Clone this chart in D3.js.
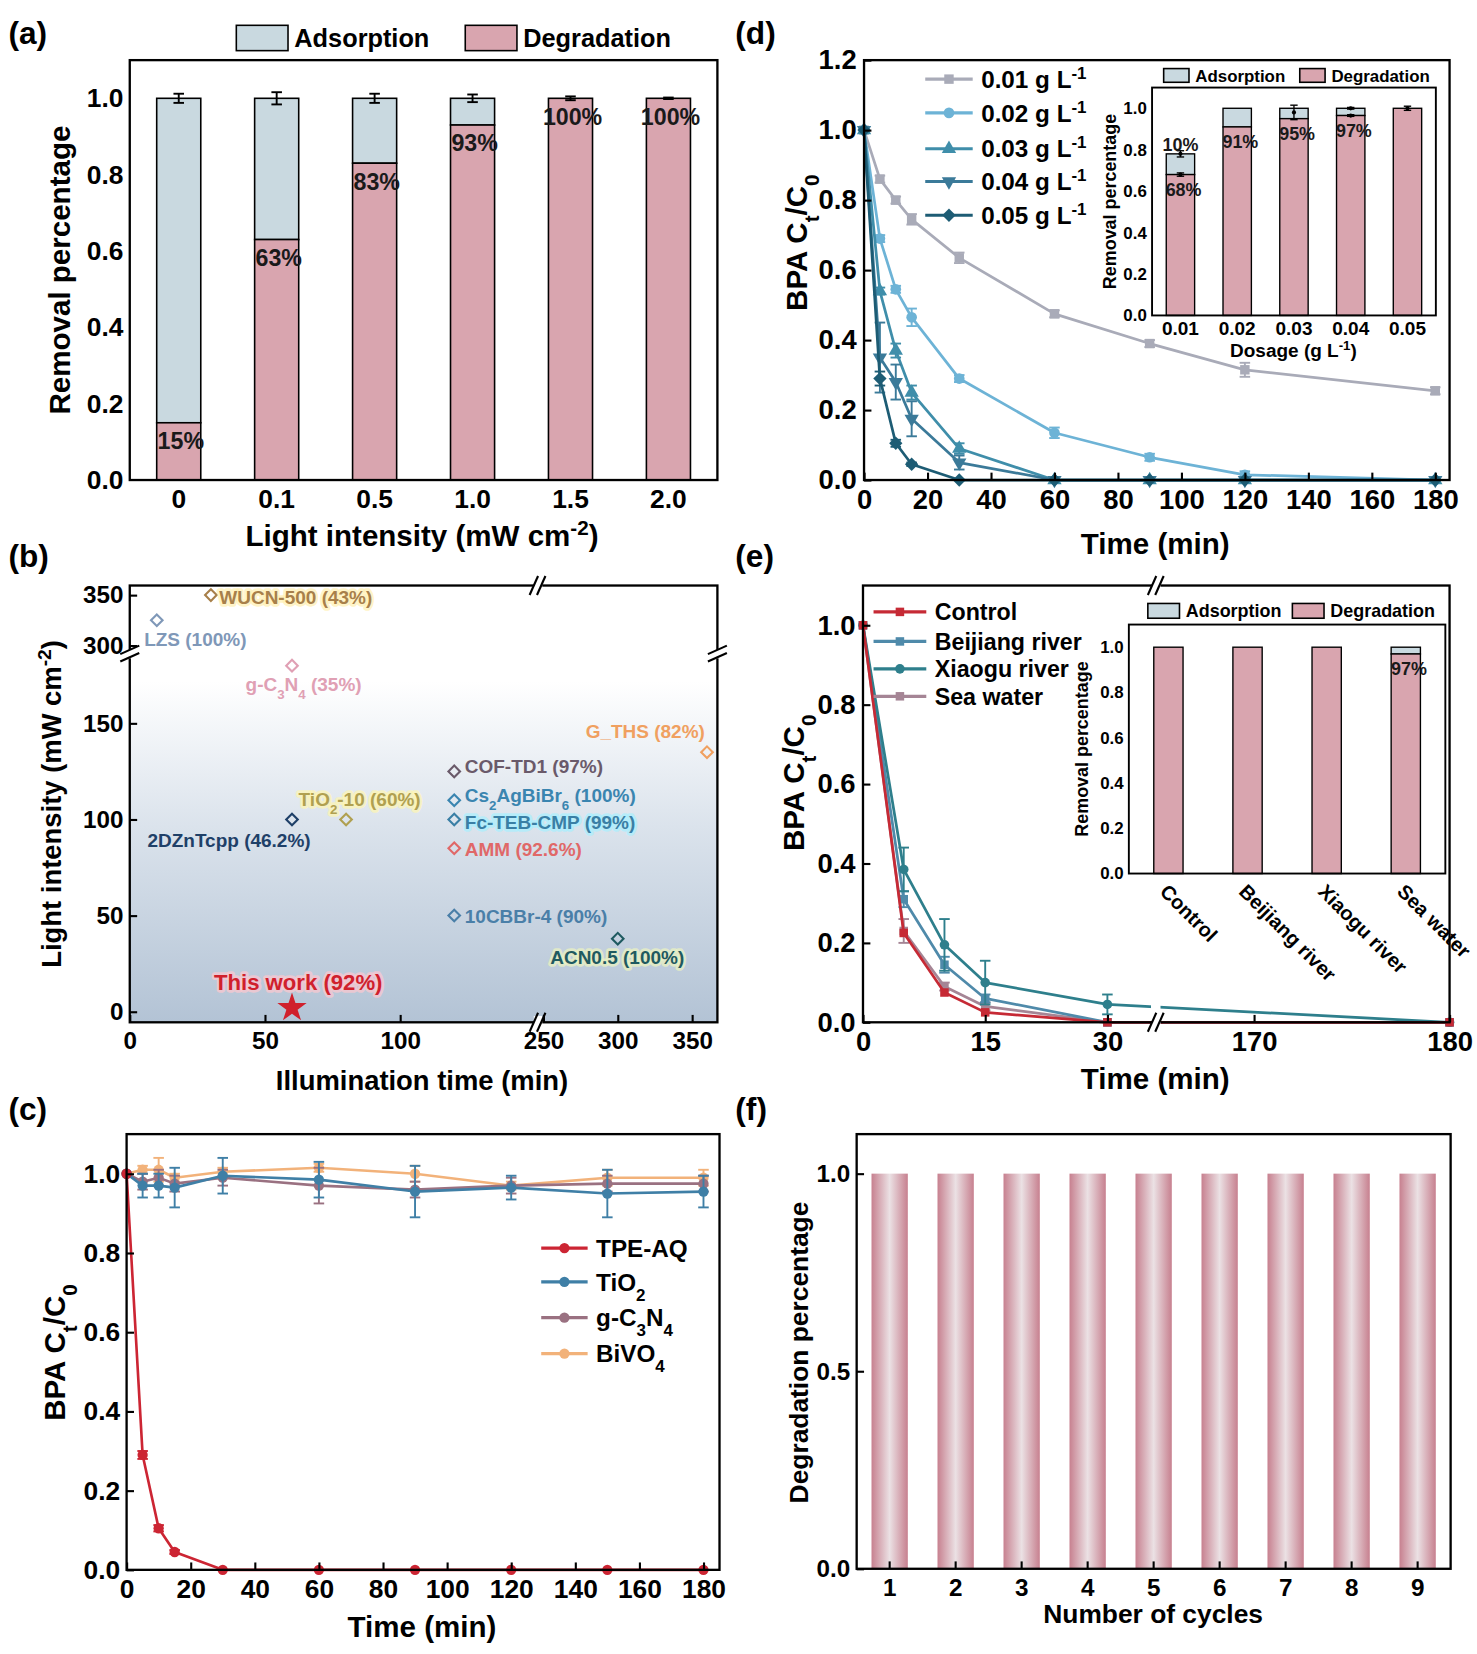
<!DOCTYPE html>
<html><head><meta charset="utf-8">
<script src="https://cdn.jsdelivr.net/npm/d3@7"></script>
<style>body{margin:0;background:#fff} svg{display:block}</style>
</head><body>
<script>
const FONT = "'Liberation Sans', Arial, Helvetica, sans-serif";

// ---- (a) light intensity
const a_cats = ["0", "0.1", "0.5", "1.0", "1.5", "2.0"];
const a_deg = [0.15, 0.63, 0.83, 0.93, 1.0, 1.0];
const a_total = [1.0, 1.0, 1.0, 1.0, 1.0, 1.0];
const a_err = [0.012, 0.016, 0.012, 0.01, 0.005, 0.002];
const a_text = ["15%", "63%", "83%", "93%", "100%", "100%"];

// ---- (b) literature comparison
const b_names = ["WUCN-500 (43%)", "LZS (100%)", "g-C_{3}N_{4} (35%)", "G_THS (82%)", "COF-TD1 (97%)",
  "Cs_{2}AgBiBr_{6} (100%)", "TiO_{2}-10 (60%)", "2DZnTcpp (46.2%)", "Fc-TEB-CMP (99%)", "AMM (92.6%)",
  "10CBBr-4 (90%)", "ACN0.5 (100%)", "This work (92%)"];
const b_time = [30, 10, 60, 360, 120, 120, 80, 60, 120, 120, 120, 300, 60];
const b_int = [350, 325, 180, 135, 125, 110, 100, 100, 100, 85, 50, 38, 2];

// ---- (c) catalysts
const c_time = [0, 5, 10, 15, 30, 60, 90, 120, 150, 180];
const c_names = ["TPE-AQ", "TiO_{2}", "g-C_{3}N_{4}", "BiVO_{4}"];
const c_tpe = [1, 0.29, 0.105, 0.045, 0, 0, 0, 0, 0, 0];
const c_tio2 = [1, 0.97, 0.97, 0.965, 0.995, 0.985, 0.955, 0.965, 0.95, 0.955];
const c_gcn = [1, 0.98, 0.99, 0.975, 0.99, 0.97, 0.96, 0.97, 0.975, 0.975];
const c_bivo = [1, 1.01, 1.01, 0.99, 1.005, 1.015, 1.0, 0.97, 0.99, 0.99];
const c_tpe_err = [0, 0.01, 0.008, 0.005, 0, 0, 0, 0, 0, 0];
const c_tio2_err = [0, 0.03, 0.03, 0.05, 0.045, 0.045, 0.065, 0.03, 0.06, 0.04];
const c_gcn_err = [0, 0.02, 0.02, 0.02, 0.02, 0.045, 0.02, 0.02, 0.02, 0.02];
const c_bivo_err = [0, 0.01, 0.03, 0.01, 0.01, 0.01, 0.02, 0.01, 0.02, 0.02];

// ---- (d) dosage
const d_time = [0, 5, 10, 15, 30, 60, 90, 120, 180];
const d_names = ["0.01 g L^{-1}", "0.02 g L^{-1}", "0.03 g L^{-1}", "0.04 g L^{-1}", "0.05 g L^{-1}"];
const d_001 = [1, 0.86, 0.80, 0.745, 0.635, 0.475, 0.39, 0.315, 0.255];
const d_002 = [1, 0.69, 0.545, 0.465, 0.29, 0.135, 0.065, 0.015, 0];
const d_003 = [1, 0.54, 0.37, 0.25, 0.09, 0, 0, 0, 0];
const d_004 = [1, 0.35, 0.28, 0.175, 0.05, 0, 0, 0, 0];
const d_005 = [1, 0.29, 0.105, 0.045, 0, 0, 0, 0, 0];
const d_001_err = [0, 0.01, 0.01, 0.015, 0.015, 0.01, 0.01, 0.02, 0.01];
const d_002_err = [0, 0.01, 0.01, 0.025, 0.01, 0.015, 0.01, 0.01, 0];
const d_003_err = [0, 0.01, 0.02, 0.02, 0.015, 0, 0, 0, 0];
const d_004_err = [0, 0.1, 0.05, 0.05, 0.02, 0, 0, 0, 0];
const d_005_err = [0, 0.02, 0.01, 0.005, 0, 0, 0, 0, 0];
// inset
const di_cats = ["0.01", "0.02", "0.03", "0.04", "0.05"];
const di_deg = [0.68, 0.91, 0.95, 0.965, 1.0];
const di_total = [0.78, 1.0, 1.0, 1.0, 1.0];
const di_text = ["68%", "91%", "95%", "97%", ""];

// ---- (e) water matrix
const e_time = [0, 5, 10, 15, 30, 180];
const e_names = ["Control", "Beijiang river", "Xiaogu river", "Sea water"];
const e_control = [1, 0.225, 0.075, 0.025, 0, 0];
const e_beijiang = [1, 0.31, 0.145, 0.06, 0, 0];
const e_xiaogu = [1, 0.385, 0.195, 0.1, 0.045, 0];
const e_sea = [1, 0.23, 0.09, 0.04, 0, 0];
const e_xiaogu_err = [0, 0.055, 0.065, 0.055, 0.025, 0];
const e_beijiang_err = [0, 0.02, 0.02, 0.01, 0, 0];
const e_sea_err = [0, 0.03, 0.01, 0.01, 0, 0];
const ei_deg = [1.0, 1.0, 1.0, 0.97];
const ei_total = [1.0, 1.0, 1.0, 1.0];

// ---- (f) cycles
const f_cats = ["1", "2", "3", "4", "5", "6", "7", "8", "9"];
const f_vals = [1, 1, 1, 1, 1, 1, 1, 1, 1];

const ADS = "#c9d9e0", DEG = "#d9a5af";

const svg = d3.select("body").append("svg").attr("width", 1477).attr("height", 1654)
  .attr("font-family", FONT).attr("font-weight", "bold");
const root = svg.append("g").attr("transform", `scale(${1477 / 1400})`);
const defs = svg.append("defs");

function rich(t, str) {
  str.split(/(_\{[^}]*\}|\^\{[^}]*\})/).forEach(p => {
    if (!p) return;
    if (p[0] == "_") t.append("tspan").attr("baseline-shift", "sub").attr("font-size", "70%").text(p.slice(2, -1));
    else if (p[0] == "^") t.append("tspan").attr("baseline-shift", "super").attr("font-size", "70%").text(p.slice(2, -1));
    else t.append("tspan").text(p);
  });
  return t;
}
function label(g, x, y, str, size, anchor = "start", rot = 0) {
  const t = g.append("text").attr("font-size", size).attr("text-anchor", anchor)
    .attr("transform", `translate(${x},${y}) rotate(${rot})`);
  return rich(t, str);
}
function frame(g, x0, y0, x1, y1, w = 2.2) {
  g.append("rect").attr("x", x0).attr("y", y0).attr("width", x1 - x0).attr("height", y1 - y0)
    .attr("fill", "none").attr("stroke", "#000").attr("stroke-width", w);
}
function styleAxis(a, size) {
  a.select(".domain").remove();
  a.selectAll("line").attr("stroke", "#000").attr("stroke-width", 2);
  a.selectAll("text").attr("font-size", size).attr("font-family", FONT).attr("font-weight", "bold").attr("fill", "#000");
  return a;
}
function yAxis(g, scale, x, ticks, fmt, size, inner = 7, pad = 7) {
  return styleAxis(g.append("g").attr("transform", `translate(${x},0)`)
    .call(d3.axisLeft(scale).tickValues(ticks).tickFormat(fmt).tickSizeInner(-inner).tickSizeOuter(0).tickPadding(pad)), size);
}
function xAxis(g, scale, y, ticks, fmt, size, inner = 7, pad = 9) {
  const ax = d3.axisBottom(scale).tickSizeInner(-inner).tickSizeOuter(0).tickPadding(pad);
  if (ticks) ax.tickValues(ticks);
  if (fmt) ax.tickFormat(fmt);
  return styleAxis(g.append("g").attr("transform", `translate(0,${y})`).call(ax), size);
}
function errBar(g, x, y0, y1, cap, color, w = 1.6) {
  g.append("line").attr("x1", x).attr("x2", x).attr("y1", y0).attr("y2", y1).attr("stroke", color).attr("stroke-width", w);
  [y0, y1].forEach(yy => g.append("line").attr("x1", x - cap).attr("x2", x + cap).attr("y1", yy).attr("y2", yy)
    .attr("stroke", color).attr("stroke-width", w));
}
function breakMark(g, x, y, horiz = true) {
  // white gap and two slanted strokes
  if (horiz) {
    g.append("rect").attr("x", x - 4).attr("y", y - 6).attr("width", 8).attr("height", 12).attr("fill", "#fff");
    [-4, 3].forEach(o => g.append("line").attr("x1", x + o - 4).attr("y1", y + 9).attr("x2", x + o + 4).attr("y2", y - 9)
      .attr("stroke", "#000").attr("stroke-width", 2));
  } else {
    g.append("rect").attr("x", x - 6).attr("y", y - 4).attr("width", 12).attr("height", 8).attr("fill", "#fff");
    [-4, 3].forEach(o => g.append("line").attr("x1", x - 9).attr("y1", y + o + 4).attr("x2", x + 9).attr("y2", y + o - 4)
      .attr("stroke", "#000").attr("stroke-width", 2));
  }
}
function stackBars(g, xs, ys, cats, deg, total, stroke = 1.5) {
  g.selectAll(null).data(cats).join("rect").attr("x", d => xs(d)).attr("width", xs.bandwidth())
    .attr("y", (d, i) => ys(total[i])).attr("height", (d, i) => ys(deg[i]) - ys(total[i]))
    .attr("fill", ADS).attr("stroke", "#000").attr("stroke-width", stroke);
  g.selectAll(null).data(cats).join("rect").attr("x", d => xs(d)).attr("width", xs.bandwidth())
    .attr("y", (d, i) => ys(deg[i])).attr("height", (d, i) => ys(0) - ys(deg[i]))
    .attr("fill", DEG).attr("stroke", "#000").attr("stroke-width", stroke);
}
function legendBox(g, x, y, w, h, fill, text, size) {
  g.append("rect").attr("x", x).attr("y", y).attr("width", w).attr("height", h).attr("fill", fill)
    .attr("stroke", "#000").attr("stroke-width", 1.5);
  g.append("text").attr("x", x + w + 6).attr("y", y + h / 2 + size * 0.36).attr("font-size", size).text(text);
}
function series(g, xf, ys, xs, vals, errs, color, sym, symSize, lw = 2.5) {
  const line = d3.line().x((d, i) => xf(xs[i])).y(d => ys(d));
  g.append("path").attr("d", line(vals)).attr("fill", "none").attr("stroke", color).attr("stroke-width", lw)
    .attr("stroke-linejoin", "round");
  if (errs) vals.forEach((v, i) => { if (errs[i] > 0) errBar(g, xf(xs[i]), ys(v - errs[i]), ys(v + errs[i]), 5, color, 1.8); });
  g.selectAll(null).data(vals).join("path").attr("d", d3.symbol(sym.type, symSize))
    .attr("transform", (d, i) => `translate(${xf(xs[i])},${ys(d)}) rotate(${sym.rot || 0})`)
    .attr("fill", color);
}
function legendLine(g, x, y, color, sym, symSize, text, size, len = 44) {
  g.append("line").attr("x1", x).attr("x2", x + len).attr("y1", y).attr("y2", y).attr("stroke", color).attr("stroke-width", 3);
  g.append("path").attr("d", d3.symbol(sym.type, symSize)).attr("transform", `translate(${x + len / 2},${y}) rotate(${sym.rot || 0})`).attr("fill", color);
  label(g, x + len + 8, y + size * 0.36, text, size);
}
const SQ = { type: d3.symbolSquare }, CI = { type: d3.symbolCircle }, TU = { type: d3.symbolTriangle },
  TD = { type: d3.symbolTriangle, rot: 180 }, DI = { type: d3.symbolSquare, rot: 45 };

// panel letters
[["(a)", 8, 42], ["(b)", 8, 537], ["(c)", 8, 1062], ["(d)", 697, 42], ["(e)", 697, 537], ["(f)", 697, 1062]]
  .forEach(([t, x, y]) => root.append("text").attr("x", x).attr("y", y).attr("font-size", 30).text(t));

// ================= (a)
{
  const g = root.append("g");
  const x = d3.scaleBand().domain(a_cats).range([123, 680]).paddingInner(0.55).paddingOuter(0.275);
  const y = d3.scaleLinear().domain([0, 1.1]).range([455, 57]);
  stackBars(g, x, y, a_cats, a_deg, a_total);
  a_cats.forEach((c, i) => {
    const cx = x(c) + x.bandwidth() / 2;
    errBar(g, cx, y(a_total[i] - a_err[i]), y(a_total[i] + a_err[i]), 5, "#000", 1.8);
    g.append("text").attr("x", cx + 2).attr("y", y(a_deg[i]) + 25).attr("text-anchor", "middle")
      .attr("font-size", 22).attr("fill", "#1a1a1a").text(a_text[i]);
  });
  frame(g, 123, 57, 680, 455);
  yAxis(g, y, 123, [0, 0.2, 0.4, 0.6, 0.8, 1.0], d3.format(".1f"), 25, 0, 6);
  xAxis(g, x, 455, null, null, 25, 0, 9);
  legendBox(g, 224, 24, 49, 24, ADS, "Adsorption", 24);
  legendBox(g, 441, 24, 49, 24, DEG, "Degradation", 24);
  label(g, 400, 518, "Light intensity (mW cm^{-2})", 28, "middle");
  label(g, 66, 256, "Removal percentage", 28, "middle", -90);
}

// ================= (b)
{
  const g = root.append("g");
  const X0 = 123, X1 = 680, Y0 = 555, Y1 = 969, XB = 510, YB = 620;
  const xL = d3.scaleLinear().domain([0, 151]).range([X0, XB]);
  const xH = d3.scaleLinear().domain([246.4, 367]).range([XB, X1]);
  const yL = d3.scaleLinear().domain([-5.5, 186]).range([Y1, YB]);
  const yH = d3.scaleLinear().domain([291.5, 359.5]).range([YB, Y0]);
  const bx = t => t < 200 ? xL(t) : xH(t);
  const by = v => v < 250 ? yL(v) : yH(v);
  const grad = defs.append("linearGradient").attr("id", "bbg").attr("x1", 0).attr("y1", 0).attr("x2", 0).attr("y2", 1);
  grad.append("stop").attr("offset", 0).attr("stop-color", "#ffffff");
  grad.append("stop").attr("offset", 0.22).attr("stop-color", "#ffffff");
  grad.append("stop").attr("offset", 0.55).attr("stop-color", "#dbe3ec");
  grad.append("stop").attr("offset", 1).attr("stop-color", "#b3c3d5");
  g.append("rect").attr("x", X0).attr("y", Y0).attr("width", X1 - X0).attr("height", Y1 - Y0).attr("fill", "url(#bbg)");

  const b_col = ["#a8804a", "#7f98b8", "#e0a0b4", "#f0a060", "#6a5a6a", "#3a85b0", "#b0a050",
    "#1f4068", "#3a7fa5", "#e06868", "#4a7fa8", "#1f5a60", "#d0202c"];
  const b_glow = ["#fff0b0", null, null, null, null, null, "#fff6b0", null, "#a8f0ff", null, null, "#eef5c0", "#ffc8d0"];
  const b_off = [[8, 8, "start"], [-12, 24, "start"], [-44, 24, "start"], [-2, -13, "end"], [10, 2, "start"],
    [10, 2, "start"], [-45, -13, "start"], [-137, 26, "start"], [10, 9, "start"], [10, 7, "start"],
    [10, 7, "start"], [-64, 24, "start"], [-74, -17, "start"]];
  b_names.forEach((n, i) => {
    const px = bx(b_time[i]), py = by(b_int[i]);
    if (i == b_names.length - 1) {
      g.append("path").attr("d", d3.symbol(d3.symbolStar, 240)).attr("transform", `translate(${px},${py})`).attr("fill", b_col[i]);
    } else {
      g.append("path").attr("d", d3.symbol(d3.symbolSquare, 60)).attr("transform", `translate(${px},${py}) rotate(45)`)
        .attr("fill", "none").attr("stroke", b_col[i]).attr("stroke-width", 2);
    }
    const t = label(g, px + b_off[i][0], py + b_off[i][1], n, i == b_names.length - 1 ? 21 : 18, b_off[i][2])
      .attr("fill", b_col[i]);
    if (b_glow[i]) t.attr("stroke", b_glow[i]).attr("stroke-width", 5).attr("stroke-opacity", 0.7)
      .attr("stroke-linejoin", "round").attr("paint-order", "stroke");
  });
  frame(g, X0, Y0, X1, Y1);
  yAxis(g, yL, X0, [0, 50, 100, 150], d3.format("d"), 23, 7, 6);
  yAxis(g, yH, X0, [300, 350], d3.format("d"), 23, 7, 6);
  xAxis(g, xL, Y1, [0, 50, 100], d3.format("d"), 23, 7, 9);
  xAxis(g, xH, Y1, [250, 300, 350], d3.format("d"), 23, 7, 9);
  breakMark(g, XB, Y0, true); breakMark(g, XB, Y1, true);
  breakMark(g, X0, YB, false); breakMark(g, X1, YB, false);
  label(g, 400, 1033, "Illumination time (min)", 26, "middle");
  label(g, 58, 762, "Light intensity (mW cm^{-2})", 26, "middle", -90);
}

// ================= (c)
{
  const g = root.append("g");
  const x = d3.scaleLinear().domain([0, 185]).range([120, 682]);
  const y = d3.scaleLinear().domain([0, 1.1]).range([1488, 1075]);
  const cols = ["#cc2533", "#3f7fa6", "#9a7181", "#f2b27a"];
  series(g, x, y, c_time, c_bivo, c_bivo_err, cols[3], CI, 75);
  series(g, x, y, c_time, c_gcn, c_gcn_err, cols[2], CI, 75);
  series(g, x, y, c_time, c_tio2, c_tio2_err, cols[1], CI, 75);
  series(g, x, y, c_time, c_tpe, c_tpe_err, cols[0], CI, 75);
  frame(g, 120, 1075, 682, 1488);
  yAxis(g, y, 120, [0, 0.2, 0.4, 0.6, 0.8, 1.0], d3.format(".1f"), 25, 7, 6);
  xAxis(g, x, 1488, d3.range(0, 181, 20), d3.format("d"), 25, 7, 9);
  [1183, 1215, 1249, 1283].forEach((yy, i) => legendLine(g, 513, yy, cols[i], CI, 75, c_names[i], 23));
  label(g, 400, 1552, "Time (min)", 28, "middle");
  label(g, 62, 1282, "BPA C_{t}/C_{0}", 28, "middle", -90);
}

// ================= (d)
{
  const g = root.append("g");
  const x = d3.scaleLinear().domain([0, 184.5]).range([819, 1374]);
  const y = d3.scaleLinear().domain([0, 1.2]).range([455, 57]);
  const cols = ["#a9abb8", "#6db3d6", "#3f8eaa", "#3b7a99", "#1d5c74"];
  const syms = [SQ, CI, TU, TD, DI];
  const vals = [d_001, d_002, d_003, d_004, d_005], errs = [d_001_err, d_002_err, d_003_err, d_004_err, d_005_err];
  vals.forEach((v, i) => series(g, x, y, d_time, v, errs[i], cols[i], syms[i], 80, 2.6));
  frame(g, 819, 57, 1374, 455);
  yAxis(g, y, 819, [0, 0.2, 0.4, 0.6, 0.8, 1.0, 1.2], d3.format(".1f"), 26, 7, 7);
  xAxis(g, x, 455, d3.range(0, 181, 20), d3.format("d"), 26, 7, 9);
  [75, 107, 141, 172, 204].forEach((yy, i) => legendLine(g, 877, yy, cols[i], syms[i], 80, d_names[i], 23, 45));
  label(g, 1095, 525, "Time (min)", 28, "middle");
  label(g, 765, 230, "BPA C_{t}/C_{0}", 28, "middle", -90);

  // inset
  const xi = d3.scaleBand().domain(di_cats).range([1092, 1361]).paddingInner(0.5).paddingOuter(0.25);
  const yi = d3.scaleLinear().domain([0, 1.1]).range([299, 83]);
  stackBars(g, xi, yi, di_cats, di_deg, di_total, 1.3);
  const ie = [[0.78, 0.015], [0.68, 0.008], [0.98, 0.035], [1.0, 0.004], [0.965, 0.004], [1.0, 0.01]];
  const ieCat = ["0.01", "0.01", "0.03", "0.04", "0.04", "0.05"];
  ie.forEach(([v, e], k) => {
    const cx = xi(ieCat[k]) + xi.bandwidth() / 2;
    errBar(g, cx, yi(v - e), yi(v + e), 3.5, "#000", 1.3);
    g.append("circle").attr("cx", cx).attr("cy", yi(v)).attr("r", 2).attr("fill", "#000");
  });
  di_cats.forEach((c, i) => {
    if (di_text[i]) g.append("text").attr("x", xi(c) + xi.bandwidth() / 2 + 3).attr("y", yi(di_deg[i]) + 20)
      .attr("text-anchor", "middle").attr("font-size", 17).attr("fill", "#1a1a1a").text(di_text[i]);
  });
  g.append("text").attr("x", xi("0.01") + xi.bandwidth() / 2).attr("y", yi(di_total[0]) - 3)
    .attr("text-anchor", "middle").attr("font-size", 17).attr("fill", "#1a1a1a").text("10%");
  frame(g, 1092, 83, 1361, 299, 1.8);
  yAxis(g, yi, 1092, [0, 0.2, 0.4, 0.6, 0.8, 1.0], d3.format(".1f"), 16, 0, 5);
  xAxis(g, xi, 299, null, null, 18, 0, 6);
  legendBox(g, 1103, 65, 24, 13, ADS, "Adsorption", 16);
  legendBox(g, 1232, 65, 24, 13, DEG, "Degradation", 16);
  label(g, 1226, 338, "Dosage (g L^{-1})", 18, "middle");
  label(g, 1058, 191, "Removal percentage", 17, "middle", -90);
}

// ================= (e)
{
  const g = root.append("g");
  const X0 = 818, X1 = 1374, Y0 = 555, Y1 = 969, XB = 1096;
  const xL = d3.scaleLinear().domain([0, 36]).range([X0, XB]);
  const xH = d3.scaleLinear().domain([165, 180]).range([XB, X1]);
  const ex = t => t < 100 ? xL(t) : xH(t);
  const y = d3.scaleLinear().domain([0, 1.1]).range([Y1, Y0]);
  const cols = ["#c62a35", "#4f8aaa", "#2e7f8c", "#a58595"];
  const syms = [SQ, SQ, CI, SQ];
  const vals = [e_control, e_beijiang, e_xiaogu, e_sea], errs = [null, e_beijiang_err, e_xiaogu_err, e_sea_err];
  [3, 1, 2, 0].forEach(i => series(g, ex, y, e_time, vals[i], errs[i], cols[i], syms[i], 65, 2.6));
  // gap of the broken axis
  g.append("rect").attr("x", XB - 5).attr("y", Y1 - 120).attr("width", 9).attr("height", 114).attr("fill", "#fff");
  frame(g, X0, Y0, X1, Y1);
  yAxis(g, y, X0, [0, 0.2, 0.4, 0.6, 0.8, 1.0], d3.format(".1f"), 26, 7, 7);
  xAxis(g, xL, Y1, [0, 15, 30], d3.format("d"), 26, 7, 9);
  xAxis(g, xH, Y1, [170, 180], d3.format("d"), 26, 7, 9);
  breakMark(g, XB, Y0, true); breakMark(g, XB, Y1, true);
  [580, 608, 634, 660].forEach((yy, i) => legendLine(g, 828, yy, cols[i], syms[i], 65, e_names[i], 22, 50));
  label(g, 1095, 1032, "Time (min)", 28, "middle");
  label(g, 762, 742, "BPA C_{t}/C_{0}", 28, "middle", -90);

  // inset
  const xi = d3.scaleBand().domain(e_names).range([1070, 1370]).paddingInner(0.63).paddingOuter(0.315);
  const yi = d3.scaleLinear().domain([0, 1.1]).range([828, 592]);
  stackBars(g, xi, yi, e_names, ei_deg, ei_total, 1.3);
  g.append("text").attr("x", xi("Sea water") + xi.bandwidth() / 2 + 3).attr("y", yi(ei_deg[3]) + 20)
    .attr("text-anchor", "middle").attr("font-size", 17).attr("fill", "#1a1a1a").text("97%");
  frame(g, 1070, 592, 1370, 828, 1.8);
  yAxis(g, yi, 1070, [0, 0.2, 0.4, 0.6, 0.8, 1.0], d3.format(".1f"), 16, 0, 5);
  const ax = xAxis(g, xi, 828, null, null, 19, 0, 6);
  ax.selectAll("text").attr("text-anchor", "start").attr("dy", 0)
    .attr("transform", "translate(-5,14) rotate(45)");
  legendBox(g, 1088, 572, 30, 14, ADS, "Adsorption", 17);
  legendBox(g, 1225, 572, 30, 14, DEG, "Degradation", 17);
  label(g, 1031, 710, "Removal percentage", 17, "middle", -90);
}

// ================= (f)
{
  const g = root.append("g");
  const x = d3.scaleBand().domain(f_cats).range([812, 1375]).paddingInner(0.45).paddingOuter(0.225);
  const y = d3.scaleLinear().domain([0, 1.1]).range([1487, 1075]);
  const gr = defs.append("linearGradient").attr("id", "fbar").attr("x1", 0).attr("x2", 1).attr("y1", 0).attr("y2", 0);
  [[0, "#c7808f"], [0.5, "#ebe1e4"], [1, "#c7808f"]].forEach(([o, c]) => gr.append("stop").attr("offset", o).attr("stop-color", c));
  g.selectAll(null).data(f_vals).join("rect").attr("x", (d, i) => x(f_cats[i])).attr("width", x.bandwidth())
    .attr("y", d => y(d)).attr("height", d => y(0) - y(d)).attr("fill", "url(#fbar)");
  frame(g, 812, 1075, 1375, 1487);
  yAxis(g, y, 812, [0, 0.5, 1.0], d3.format(".1f"), 23, 7, 6);
  xAxis(g, x, 1487, null, null, 23, 7, 9);
  label(g, 1093, 1538, "Number of cycles", 25, "middle");
  label(g, 766, 1282, "Degradation percentage", 25, "middle", -90);
}
</script></body></html>
